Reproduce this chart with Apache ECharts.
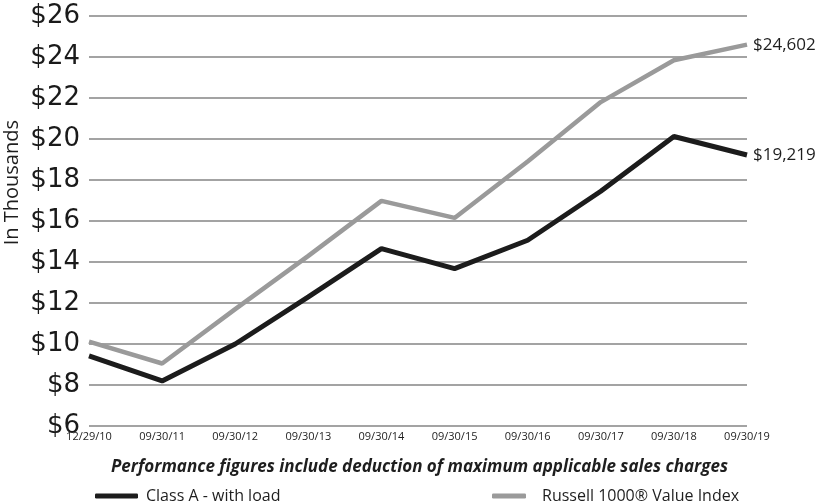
<!DOCTYPE html>
<html>
<head>
<meta charset="utf-8">
<script src="https://cdn.jsdelivr.net/npm/echarts@6/dist/echarts.min.js"></script>
<style>
  html, body { margin: 0; padding: 0; background: #fff; }
  #chart { width: 824px; height: 503px; }
</style>
</head>
<body>
<div id="chart"></div>
<script>
// Growth of a hypothetical investment, in thousands of dollars
const dates = ['12/29/10', '09/30/11', '09/30/12', '09/30/13', '09/30/14',
               '09/30/15', '09/30/16', '09/30/17', '09/30/18', '09/30/19'];
const classA = [9.425, 8.2, 10.0, 12.3, 14.65, 13.68, 15.06, 17.45, 20.12, 19.219];
const russell = [10.12, 9.05, 11.7, 14.3, 16.98, 16.15, 18.9, 21.8, 23.84, 24.602];
const yTicks = { min: 6, max: 26, step: 2 };

const fontFamily = '"Open Sans", Lato, sans-serif';
const chart = echarts.init(document.getElementById('chart'));

const endLabel = {
  show: true,
  distance: 6,
  color: '#1e1e1e',
  fontSize: 17,
  fontFamily: fontFamily,
  formatter: (p) => '$' + Math.round(p.value * 1000).toLocaleString('en-US')
};

chart.setOption({
  animation: false,
  textStyle: { fontFamily: fontFamily },
  grid: { left: 89, right: 77, top: 16, bottom: 77 },
  title: {
    text: 'Performance figures include deduction of maximum applicable sales charges',
    left: 106,
    top: 454,
    textStyle: {
      fontSize: 17, fontStyle: 'italic', fontWeight: 'bold',
      color: '#1e1e1e', fontFamily: fontFamily
    }
  },
  legend: [
    {
      data: ['Class A - with load'],
      left: 90, top: 483,
      icon: 'roundRect', itemWidth: 43, itemHeight: 5, itemGap: 10,
      textStyle: { fontSize: 16, color: '#1e1e1e', fontFamily: fontFamily, padding: [0, 0, 0, 3] }
    },
    {
      data: ['Russell 1000® Value Index'],
      left: 487, top: 483,
      icon: 'roundRect', itemWidth: 34, itemHeight: 5, itemGap: 10,
      textStyle: { fontSize: 16, color: '#1e1e1e', fontFamily: fontFamily, padding: [0, 0, 0, 11] }
    }
  ],
  graphic: [{
    type: 'text',
    left: 2,
    top: 120,
    rotation: Math.PI / 2,
    style: {
      text: 'In Thousands',
      fontSize: 20,
      fill: '#1e1e1e',
      fontFamily: fontFamily
    }
  }],
  xAxis: {
    type: 'category',
    data: dates,
    boundaryGap: false,
    axisLine: { show: false },
    axisTick: { show: false },
    axisLabel: { fontSize: 11, color: '#1e1e1e', margin: 5, interval: 0 },
    splitLine: { show: false }
  },
  yAxis: {
    type: 'value',
    min: yTicks.min, max: yTicks.max, interval: yTicks.step,
    axisLine: { show: false },
    axisTick: { show: false },
    axisLabel: {
      fontSize: 26, color: '#1a1a1a', margin: 9,
      fontFamily: '"DejaVu Sans", sans-serif',
      formatter: '${value}'
    },
    splitLine: { lineStyle: { color: '#a3a3a3', width: 2 } }
  },
  series: [
    {
      name: 'Russell 1000® Value Index',
      type: 'line',
      data: russell,
      symbol: 'none',
      color: '#9a9a9a',
      lineStyle: { color: '#9a9a9a', width: 4.5 },
      endLabel: endLabel,
      z: 2
    },
    {
      name: 'Class A - with load',
      type: 'line',
      data: classA,
      symbol: 'none',
      color: '#1c1c1c',
      lineStyle: { color: '#1c1c1c', width: 5 },
      endLabel: endLabel,
      z: 3
    }
  ]
});
</script>
</body>
</html>
